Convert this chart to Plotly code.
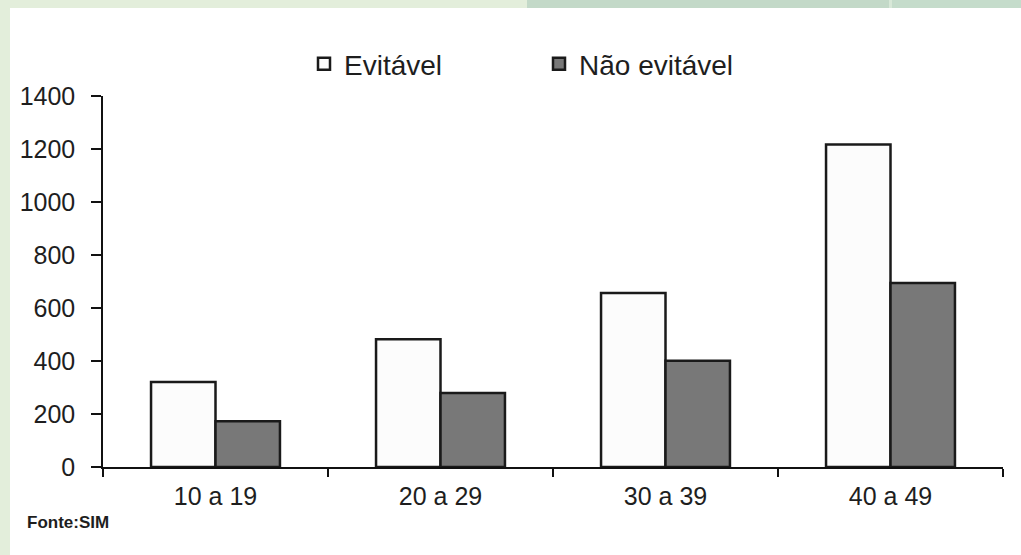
import plotly.graph_objects as go

categories = ["10 a 19", "20 a 29", "30 a 39", "40 a 49"]
evitavel = [321, 482, 657, 1217]
nao_evitavel = [173, 279, 401, 694]
y_ticks = [0, 200, 400, 600, 800, 1000, 1200, 1400]
series_names = ["Evitável", "Não evitável"]
source_text = "Fonte:SIM"

W, H = 1021, 555
L, R, T, B = 103, 18, 96, 88
PW, PH = W - L - R, H - T - B

def px_x(x):
    return (x - L) / PW

def px_y(y):
    return (H - B - y) / PH

FONT = "Liberation Sans, Arial, sans-serif"
TXT = "#1e1e1e"

fig = go.Figure()
fig.add_trace(go.Bar(
    x=categories, y=evitavel, name=series_names[0],
    marker=dict(color="#fcfcfc", line=dict(color="#1a1a1a", width=2.5)),
))
fig.add_trace(go.Bar(
    x=categories, y=nao_evitavel, name=series_names[1],
    marker=dict(color="#787878", line=dict(color="#1a1a1a", width=2.5)),
))

shapes = [
    dict(type="rect", xref="paper", yref="paper", x0=px_x(0), x1=px_x(10),
         y0=px_y(H), y1=px_y(0), fillcolor="#e3eedb", line_width=0, layer="below"),
    dict(type="rect", xref="paper", yref="paper", x0=px_x(0), x1=px_x(527),
         y0=px_y(8), y1=px_y(0), fillcolor="#e3eedb", line_width=0, layer="below"),
    dict(type="rect", xref="paper", yref="paper", x0=px_x(527), x1=px_x(889),
         y0=px_y(8), y1=px_y(0), fillcolor="#c3d9c8", line_width=0, layer="below"),
    dict(type="rect", xref="paper", yref="paper", x0=px_x(889), x1=px_x(892),
         y0=px_y(8), y1=px_y(0), fillcolor="#d8e8d8", line_width=0, layer="below"),
    dict(type="rect", xref="paper", yref="paper", x0=px_x(892), x1=px_x(W),
         y0=px_y(8), y1=px_y(0), fillcolor="#c5dccb", line_width=0, layer="below"),
]

fig.update_layout(
    width=W, height=H,
    margin=dict(l=L, r=R, t=T, b=B, pad=0),
    paper_bgcolor="white", plot_bgcolor="white",
    barmode="group", bargap=0.427, bargroupgap=0,
    font=dict(family=FONT, size=25, color=TXT),
    showlegend=True,
    legend=dict(
        orientation="h", x=px_x(304), xanchor="left", y=px_y(64), yanchor="middle",
        font=dict(family=FONT, size=28, color=TXT),
        entrywidth=190, entrywidthmode="pixels",
        bgcolor="rgba(0,0,0,0)", traceorder="normal",
    ),
    xaxis=dict(
        type="category", showgrid=False, showline=True, linecolor="#111", linewidth=2,
        ticks="outside", tickson="boundaries", ticklen=8, tickwidth=1.5, tickcolor="#111",
        ticklabelstandoff=6,
        tickfont=dict(family=FONT, size=25, color=TXT), fixedrange=True,
    ),
    yaxis=dict(
        range=[0, 1400], tickvals=y_ticks, showgrid=False, zeroline=False,
        showline=True, linecolor="#111", linewidth=1.5,
        ticks="outside", ticklen=10, tickwidth=1.5, tickcolor="#111",
        ticklabelstandoff=11,
        tickfont=dict(family=FONT, size=25, color=TXT), fixedrange=True,
    ),
    shapes=shapes,
    annotations=[dict(
        text=source_text, xref="paper", yref="paper", x=px_x(25), y=px_y(522),
        xanchor="left", yanchor="middle", showarrow=False,
        font=dict(family=FONT, size=17, color=TXT, weight="bold"),
    )],
)

fig.write_html(
    "out.html",
    config=dict(displayModeBar=False),
    post_script="document.body.style.margin='0';document.body.style.overflow='hidden';",
)
